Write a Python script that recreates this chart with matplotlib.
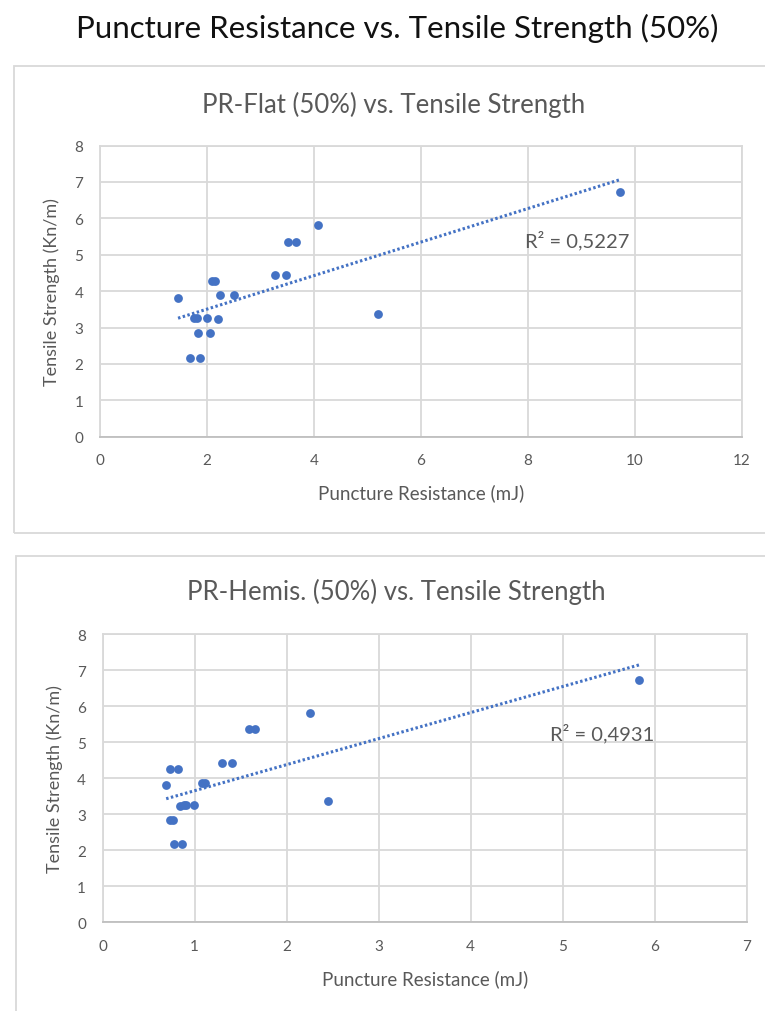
import numpy as np
import matplotlib
matplotlib.use("Agg")
import matplotlib.pyplot as plt
from matplotlib.patches import Rectangle

plt.rcParams['font.family'] = ['Lato', 'DejaVu Sans']

# Tensile strength of each sample (Kn/m)
tensile = [3.82, 4.27, 4.27, 2.85, 2.85, 2.17, 2.17, 3.22, 3.27, 3.27,
           3.27, 3.88, 3.88, 4.43, 4.43, 5.36, 5.36, 5.81, 3.36, 6.73]
# Puncture resistance, flat probe (mJ)
pr_flat = [1.46, 2.10, 2.15, 1.83, 2.06, 1.68, 1.87, 2.21, 1.76, 1.82,
           2.01, 2.24, 2.51, 3.28, 3.48, 3.52, 3.67, 4.07, 5.20, 9.73]
# Puncture resistance, hemispherical probe (mJ)
pr_hemis = [0.69, 0.73, 0.82, 0.73, 0.76, 0.77, 0.86, 0.84, 0.88, 0.91,
            0.99, 1.08, 1.11, 1.30, 1.41, 1.59, 1.66, 2.25, 2.45, 5.83]

r2_flat = "R² = 0,5227"
r2_hemis = "R² = 0,4931"

W, H = 765, 1012
fig = plt.figure(figsize=(W / 100, H / 100), dpi=100)
fig.patch.set_facecolor('white')

BLUE = '#4472C4'
GRID = '#d9d9d9'
TXT = '#595959'


def fx(px):
    return px / W


def fy(py):
    return 1 - py / H


def axes_px(x0, y0, x1, y1):
    return fig.add_axes([fx(x0), fy(y1), fx(x1) - fx(x0), (y1 - y0) / H])


# chart frames
for (x0, y0, x1, y1) in [(13.7, 67.3, 775, 534.3), (16, 556.7, 775, 1020)]:
    fig.patches.append(Rectangle((fx(x0), fy(y1)), fx(x1) - fx(x0), (y1 - y0) / H,
                                 transform=fig.transFigure, fill=False,
                                 edgecolor=GRID, lw=1.3, clip_on=False))

fig.text(fx(397), fy(38), "Puncture Resistance vs. Tensile Strength (50%)",
         ha='center', va='baseline', fontsize=22.5, color='#111111')


def panel(box, xs, xmax, title, title_xy, r2, r2_xy):
    x0, y0, x1, y1 = box
    ax = axes_px(x0, y0, x1, y1)
    ax.set_xlim(0, xmax)
    ax.set_ylim(0, 8)
    ax.set_xticks(np.arange(0, xmax + 1, 2 if xmax > 8 else 1))
    ax.set_yticks(np.arange(0, 9, 1))
    ax.grid(True, color=GRID, lw=1.3)
    ax.set_axisbelow(True)
    for s in ax.spines.values():
        s.set_color(GRID)
        s.set_linewidth(1.3)
    ax.spines['bottom'].set_color('#bfbfbf')
    ax.tick_params(length=0, labelsize=11, labelcolor=TXT, pad=12)

    xs = np.asarray(xs)
    ys = np.asarray(tensile)
    ax.scatter(xs, ys, s=40, color=BLUE, zorder=3, linewidths=0)

    slope, icpt = np.polyfit(xs, ys, 1)
    xl = np.array([xs.min(), xs.max()])
    ax.plot(xl, slope * xl + icpt, color=BLUE, lw=2.2,
            linestyle=(0, (0.8, 0.8)), zorder=2)

    ax.text(*r2_xy, r2, ha='center', va='center', fontsize=14.5, color=TXT)

    ax.set_xlabel("Puncture Resistance (mJ)", fontsize=13.5, color=TXT, va='center')
    ax.set_ylabel("Tensile Strength (Kn/m)", fontsize=13, color=TXT, va='center')
    ax.xaxis.set_label_coords(0.5, -(55.5 / (y1 - y0)))
    ax.yaxis.set_label_coords(-(48 / (x1 - x0)), 0.5)

    fig.text(fx(title_xy[0]), fy(title_xy[1]), title, ha='center',
             va='baseline', fontsize=18.5, color=TXT)
    return ax


panel((100, 146.5, 741.5, 437.7), pr_flat, 12,
      "PR-Flat (50%) vs. Tensile Strength", (394, 113), r2_flat, (8.93, 5.42))
panel((102.7, 635.3, 746.7, 923.3), pr_hemis, 7,
      "PR-Hemis. (50%) vs. Tensile Strength", (396, 600), r2_hemis, (5.43, 5.26))

fig.savefig("out.png", dpi=100, facecolor='white')
